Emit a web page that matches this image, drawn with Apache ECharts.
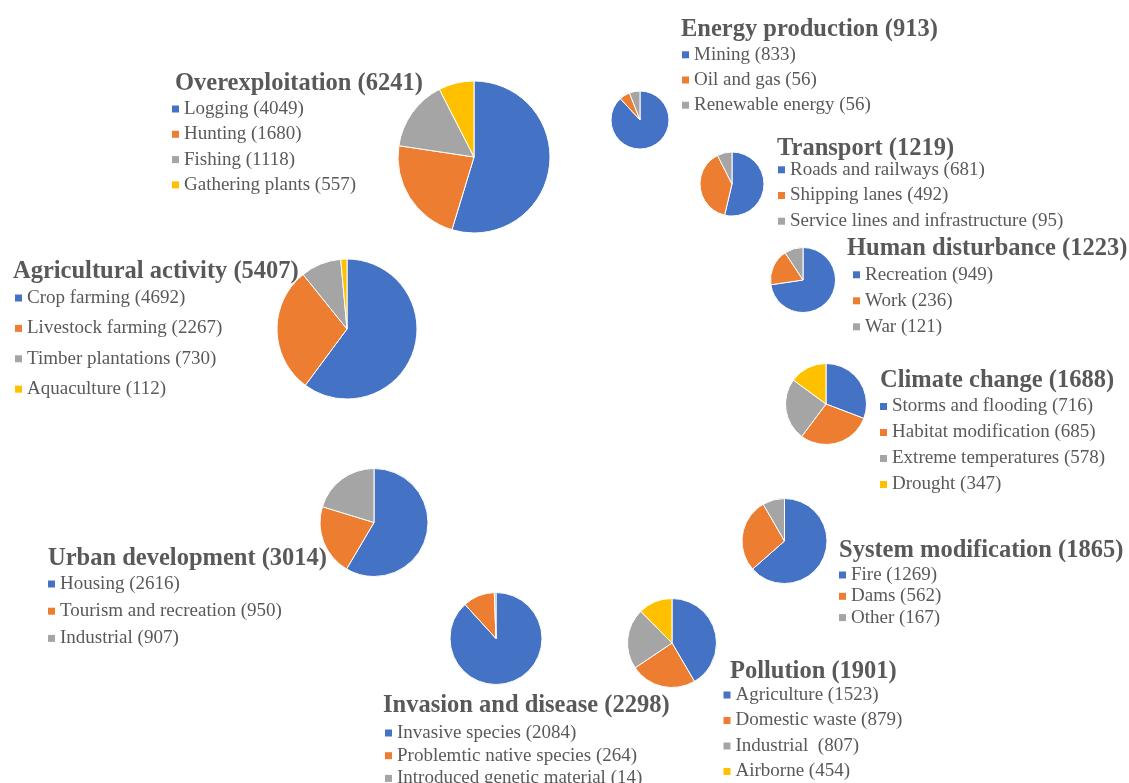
<!DOCTYPE html>
<html>
<head>
<meta charset="utf-8">
<title>Threat categories</title>
<script src="https://cdn.jsdelivr.net/npm/echarts@6/dist/echarts.min.js"></script>
<style>
  html, body { margin: 0; padding: 0; background: #ffffff; }
  #chart { width: 1129px; height: 783px; }
</style>
</head>
<body>
<div id="chart"></div>
<script>
// threat groups and their headline totals
var groupTitles = ['Overexploitation', 'Agricultural activity', 'Urban development', 'Invasion and disease',
  'Pollution', 'System modification', 'Climate change', 'Human disturbance', 'Transport', 'Energy production'];
var groupTotals = [6241, 5407, 3014, 2298, 1901, 1865, 1688, 1223, 1219, 913];

// sub-threats per group
var overexploitationNames = ['Logging', 'Hunting', 'Fishing', 'Gathering plants'];
var overexploitationValues = [4049, 1680, 1118, 557];
var agricultureNames = ['Crop farming', 'Livestock farming', 'Timber plantations', 'Aquaculture'];
var agricultureValues = [4692, 2267, 730, 112];
var urbanNames = ['Housing', 'Tourism and recreation', 'Industrial'];
var urbanValues = [2616, 950, 907];
var invasionNames = ['Invasive species', 'Problemtic native species', 'Introduced genetic material'];
var invasionValues = [2084, 264, 14];
var pollutionNames = ['Agriculture', 'Domestic waste', 'Industrial ', 'Airborne'];
var pollutionValues = [1523, 879, 807, 454];
var systemNames = ['Fire', 'Dams', 'Other'];
var systemValues = [1269, 562, 167];
var climateNames = ['Storms and flooding', 'Habitat modification', 'Extreme temperatures', 'Drought'];
var climateValues = [716, 685, 578, 347];
var humanNames = ['Recreation', 'Work', 'War'];
var humanValues = [949, 236, 121];
var transportNames = ['Roads and railways', 'Shipping lanes', 'Service lines and infrastructure'];
var transportValues = [681, 492, 95];
var energyNames = ['Mining', 'Oil and gas', 'Renewable energy'];
var energyValues = [833, 56, 56];

var groupNames = [overexploitationNames, agricultureNames, urbanNames, invasionNames, pollutionNames,
  systemNames, climateNames, humanNames, transportNames, energyNames];
var groupValues = [overexploitationValues, agricultureValues, urbanValues, invasionValues, pollutionValues,
  systemValues, climateValues, humanValues, transportValues, energyValues];

var palette = ['#4472C4', '#ED7D31', '#A5A5A5', '#FFC000'];
var textColor = '#595959';
var serif = '"Liberation Serif", "Times New Roman", serif';

// placement of each pie and its legend (pixels)
var layout = [
  {pie: [474, 157], r: 76, title: [175, 82], legend: [172, 107.5], step: 24.3},
  {pie: [347, 329], r: 70, title: [13, 270], legend: [15, 296.5], step: 29.4},
  {pie: [374, 522.5], r: 54, title: [48, 557], legend: [48, 582.5], step: 26.2},
  {pie: [496, 638.5], r: 46, title: [383, 704], legend: [385, 731.5], step: 21.7},
  {pie: [672, 643], r: 44.5, title: [730, 669.5], legend: [723.5, 693.5], step: 24.5},
  {pie: [784.5, 541], r: 42.5, title: [839, 549], legend: [839, 573.5], step: 20.3},
  {pie: [826, 404], r: 40.5, title: [880, 378.5], legend: [880, 405], step: 25},
  {pie: [803, 280], r: 32.5, title: [847, 247], legend: [853, 273.3], step: 25},
  {pie: [732, 184], r: 32, title: [777, 146.5], legend: [778, 168.3], step: 24.7},
  {pie: [640, 120], r: 29, title: [681, 27.5], legend: [682, 53.3], step: 24.2}
];

var titleSize = 24.5;
var itemSize = 19;
var itemLine = 18;

var titles = [];
var legends = [];
var series = [];

groupTitles.forEach(function (name, g) {
  var pos = layout[g];
  var labels = groupNames[g].map(function (n, i) {
    return n + ' (' + groupValues[g][i] + ')';
  });

  titles.push({
    text: name + ' (' + groupTotals[g] + ')',
    left: pos.title[0],
    top: pos.title[1] - titleSize / 2 + 2,
    padding: 0,
    textStyle: {
      fontFamily: serif,
      fontWeight: 'bold',
      fontSize: titleSize,
      lineHeight: titleSize,
      color: textColor
    }
  });

  legends.push({
    data: labels,
    orient: 'vertical',
    left: pos.legend[0],
    top: pos.legend[1] - itemLine / 2 + 1,
    height: 200,
    padding: 0,
    icon: 'rect',
    itemWidth: 7,
    itemHeight: 7,
    itemGap: pos.step - itemLine,
    itemStyle: {borderWidth: 0},
    selectedMode: false,
    textStyle: {
      fontFamily: serif,
      fontSize: itemSize,
      lineHeight: itemLine,
      color: textColor
    }
  });

  series.push({
    name: name,
    type: 'pie',
    center: pos.pie,
    radius: pos.r,
    startAngle: 90,
    clockwise: true,
    avoidLabelOverlap: false,
    silent: true,
    label: {show: false},
    labelLine: {show: false},
    itemStyle: {borderColor: '#ffffff', borderWidth: 1},
    data: labels.map(function (lab, i) {
      return {name: lab, value: groupValues[g][i], itemStyle: {color: palette[i]}};
    })
  });
});

var chart = echarts.init(document.getElementById('chart'));
chart.setOption({
  backgroundColor: '#ffffff',
  animation: false,
  title: titles,
  legend: legends,
  series: series
});
</script>
</body>
</html>
